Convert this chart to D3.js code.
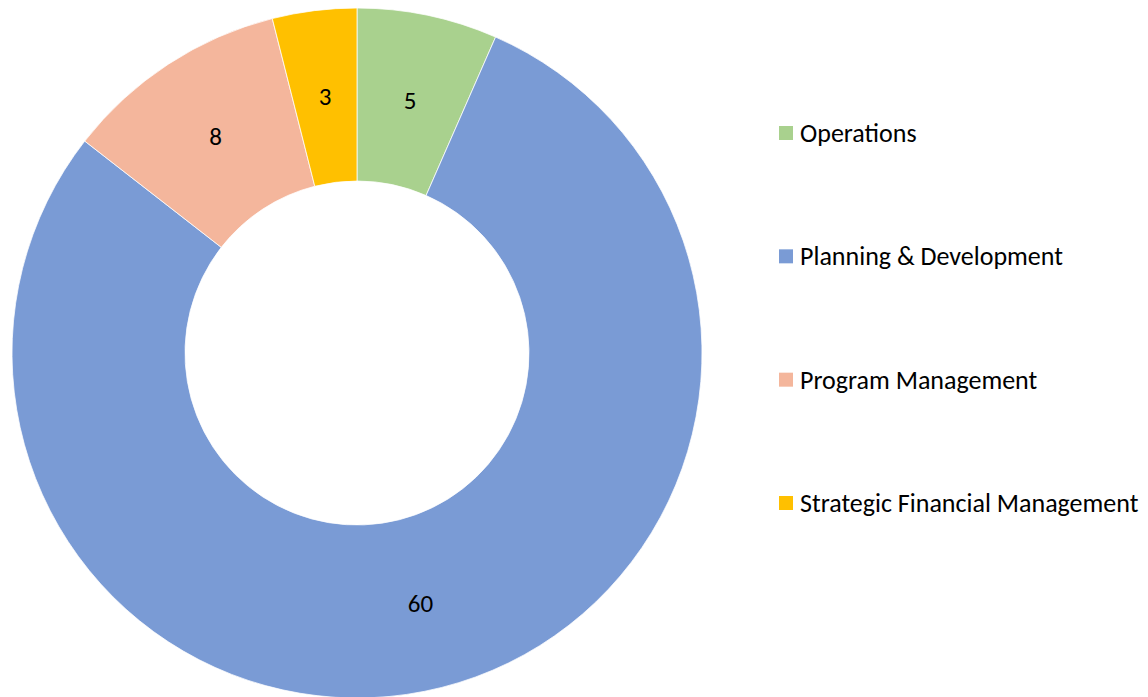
<!DOCTYPE html>
<html>
<head>
<meta charset="utf-8">
<script src="https://cdn.jsdelivr.net/npm/d3@7"></script>
<style>
  body { margin: 0; background: #fff; }
  text { font-family: Carlito, Calibri, Lato, "Noto Sans", sans-serif; fill: #000; }
</style>
</head>
<body>
<svg id="chart" width="1148" height="697"></svg>
<script>
// data
var categories = ["Operations", "Planning & Development", "Program Management", "Strategic Financial Management"];
var values = [5, 60, 8, 3];
var colors = ["#A9D18E", "#7A9BD5", "#F4B69C", "#FFC000"];

var width = 1148, height = 697;
var cx = 357, cy = 353;
var outerR = 345, innerR = 172;

var svg = d3.select("#chart");

var data = categories.map(function (c, i) { return { name: c, value: values[i], color: colors[i] }; });

var pie = d3.pie().value(function (d) { return d.value; }).sort(null);
var arc = d3.arc().innerRadius(innerR).outerRadius(outerR);

var g = svg.append("g").attr("transform", "translate(" + cx + "," + cy + ")");

var slices = g.selectAll(".slice")
    .data(pie(data))
    .enter().append("g")
    .attr("class", "slice");

slices.append("path")
    .attr("d", arc)
    .attr("fill", function (d) { return d.data.color; })
    .attr("stroke", "#fff")
    .attr("stroke-width", 0.75);

slices.append("text")
    .attr("transform", function (d) { return "translate(" + arc.centroid(d) + ")"; })
    .attr("text-anchor", "middle")
    .attr("dy", "0.35em")
    .attr("font-size", 25)
    .text(function (d) { return d.data.value; });

// legend
var legendY = d3.scalePoint().domain(categories).range([133, 503]);

var legend = svg.append("g").selectAll(".legend")
    .data(data)
    .enter().append("g")
    .attr("class", "legend")
    .attr("transform", function (d) { return "translate(779," + legendY(d.name) + ")"; });

legend.append("rect")
    .attr("x", 0)
    .attr("y", -7)
    .attr("width", 14)
    .attr("height", 14)
    .attr("fill", function (d) { return d.color; });

legend.append("text")
    .attr("x", 21)
    .attr("dy", "0.35em")
    .attr("font-size", 26)
    .text(function (d) { return d.name; });
</script>
</body>
</html>
